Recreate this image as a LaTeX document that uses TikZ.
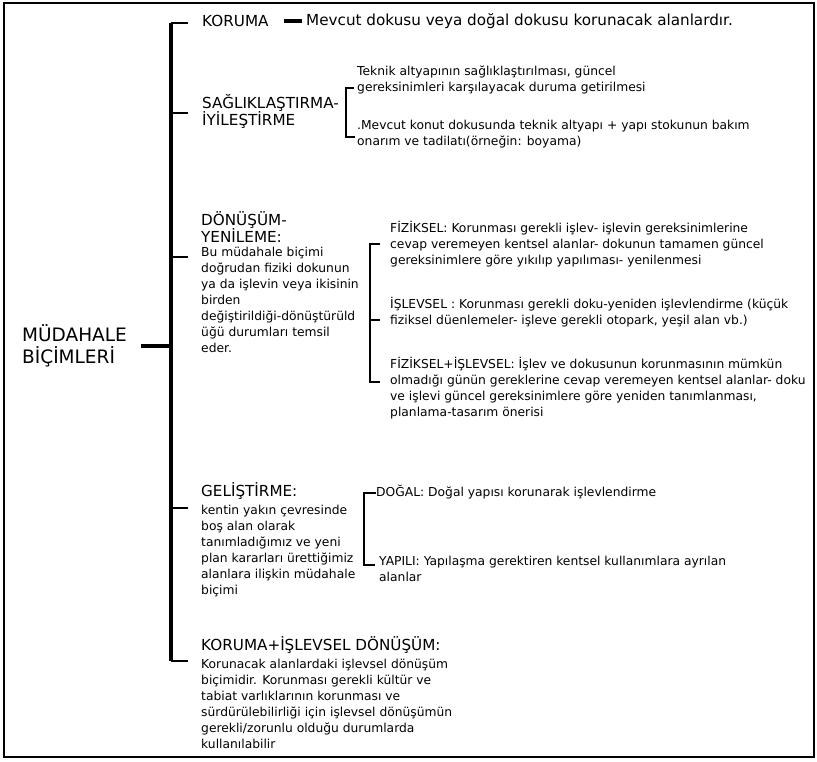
\documentclass[tikz,border=0pt]{standalone}
\usepackage{fontspec}
\setmainfont{DejaVu Sans}
\usetikzlibrary{positioning}

\tikzset{
  tronco/.style={line width=3.2pt},
  rama/.style={line width=2.8pt},
  llave/.style={line width=1.9pt},
  titulo/.style={font=\fontsize{15.2}{17}\selectfont, align=left, inner sep=0pt},
  texto/.style={font=\fontsize{12.3}{16}\selectfont, align=left, inner sep=0pt},
}

\begin{document}
\begin{tikzpicture}[x=1pt, y=-1pt]

    \useasboundingbox (0, 0) rectangle (817, 761);
    \draw[line width=2pt] (4, 3) rectangle (814, 757);

    % Tronco principal
    \coordinate (T1) at (171, 23);
    \coordinate (T2) at (171, 113);
    \coordinate (T3) at (171, 257);
    \coordinate (T4) at (171, 508);
    \coordinate (T5) at (171, 661);

    \node[font=\fontsize{18.5}{22}\selectfont, align=left, inner sep=0pt, anchor=west]
        (biçim) at (22, 346) {MÜDAHALE\\BİÇİMLERİ};
    \draw[tronco] (biçim.east) ++(14, 0) coordinate (B0) -- (B0 -| T1);
    \draw[tronco] (T1) -- (T5);

    % KORUMA
    \node[titulo, anchor=west] (koruma) at (202, 21) {KORUMA};
    \node[titulo, anchor=west] (korumaDef) at (306, 21)
        {Mevcut dokusu veya doğal dokusu korunacak alanlardır.};
    \draw[rama] (T1) -- ++(17, 0);
    \draw[tronco, shorten <=15pt, shorten >=4pt] (koruma.east) -- (korumaDef.west);

    % SAGLIKLASTIRMA
    \node[titulo, anchor=west] (saglik) at (202, 111) {SAĞLIKLAŞTIRMA-\\İYİLEŞTİRME};
    \draw[rama] (T2) -- ++(17, 0);
    \coordinate (S1) at (346, 88);
    \coordinate (S2) at (346, 137);
    \node[texto, anchor=west] (saglikA) at (357, 80)
        {Teknik altyapının sağlıklaştırılması, güncel\\gereksinimleri karşılayacak duruma getirilmesi};
    \node[texto, anchor=west] (saglikB) at (357, 134)
        {.Mevcut konut dokusunda teknik altyapı + yapı stokunun bakım\\onarım ve tadilatı(örneğin: boyama)};
    \draw[llave] (S1 -| saglikA.west) ++(-3, 0) -- (S1) -- (S2) -- ++(9, 0);

    % DONUSUM
    \node[titulo, anchor=north west] (donusum) at (201, 211) {DÖNÜŞÜM-\\YENİLEME:};
    \node[texto, below=5pt of donusum.south west, anchor=north west] (donusumDef)
        {Bu müdahale biçimi\\doğrudan fiziki dokunun\\ya da işlevin veya ikisinin\\birden\\değiştirildiği-dönüştürüld\\üğü durumları temsil\\eder.};
    \draw[rama] (T3) -- ++(17, 0);
    \coordinate (D1) at (370, 244);
    \coordinate (D2) at (370, 320);
    \coordinate (D3) at (370, 382);
    \node[texto, anchor=west] (fiziksel) at (390, 244)
        {FİZİKSEL: Korunması gerekli işlev- işlevin gereksinimlerine\\cevap veremeyen kentsel alanlar- dokunun tamamen güncel\\gereksinimlere göre yıkılıp yapılıması- yenilenmesi};
    \node[texto, anchor=west] (islevsel) at (390, 312)
        {İŞLEVSEL : Korunması gerekli doku-yeniden işlevlendirme (küçük\\fiziksel düenlemeler- işleve gerekli otopark, yeşil alan vb.)};
    \node[texto, anchor=north west] (ikisi) at (390, 357)
        {FİZİKSEL+İŞLEVSEL: İşlev ve dokusunun korunmasının mümkün\\olmadığı günün gereklerine cevap veremeyen kentsel alanlar- doku\\ve işlevi güncel gereksinimlere göre yeniden tanımlanması,\\planlama-tasarım önerisi};
    \draw[llave] (D1) ++(10, 0) -- (D1) -- (D3) -- ++(10, 0);
    \draw[llave] (D2) -- ++(10, 0);

    % GELISTIRME
    \node[titulo, anchor=west] (gelis) at (201, 491) {GELİŞTİRME:};
    \node[texto, below=5pt of gelis.south west, anchor=north west] (gelisDef)
        {kentin yakın çevresinde\\boş alan olarak\\tanımladığımız ve yeni\\plan kararları ürettiğimiz\\alanlara ilişkin müdahale\\biçimi};
    \draw[rama] (T4) -- ++(17, 0);
    \coordinate (G1) at (364, 493);
    \coordinate (G2) at (364, 565);
    \node[texto, anchor=west] (dogal) at (376, 492) {DOĞAL: Doğal yapısı korunarak işlevlendirme};
    \node[texto, anchor=north west] (yapili) at (379, 556)
        {YAPILI: Yapılaşma gerektiren kentsel kullanımlara ayrılan\\alanlar};
    \draw[llave] (dogal.west |- G1) -- (G1) -- (G2) -- ++(11, 0);

    % KORUMA+ISLEVSEL
    \node[titulo, anchor=west] (korIs) at (201, 645) {KORUMA+İŞLEVSEL DÖNÜŞÜM:};
    \node[texto, below=5pt of korIs.south west, anchor=north west] (korIsDef)
        {Korunacak alanlardaki işlevsel dönüşüm\\biçimidir. Korunması gerekli kültür ve\\tabiat varlıklarının korunması ve\\sürdürülebilirliği için işlevsel dönüşümün\\gerekli/zorunlu olduğu durumlarda\\kullanılabilir};
    \draw[rama] (T5) -- ++(17, 0);

\end{tikzpicture}
\end{document}
